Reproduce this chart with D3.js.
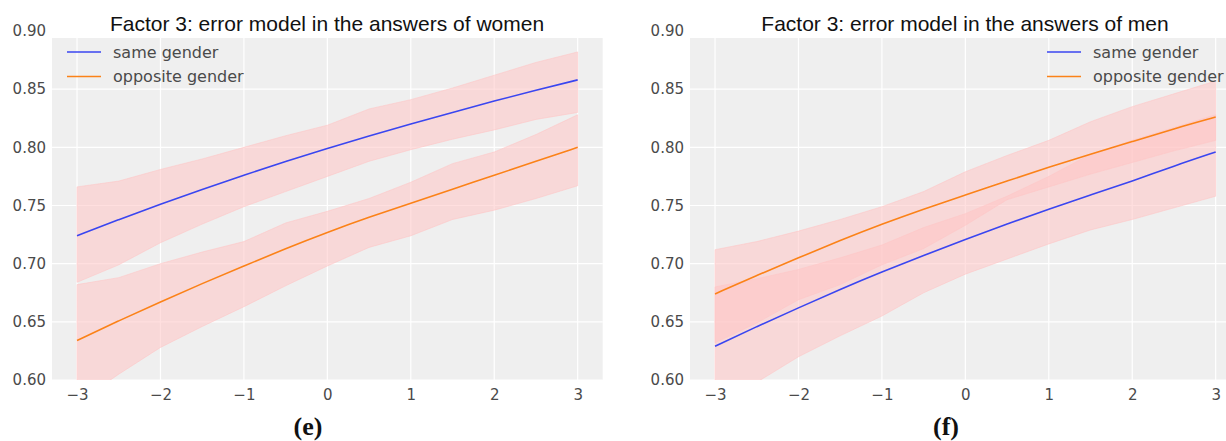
<!DOCTYPE html>
<html>
<head>
<meta charset="utf-8">
<script src="https://cdn.jsdelivr.net/npm/d3@7"></script>
<style>
    body { margin: 0; background: #fff; }
    svg { display: block; }
    .tick text { font-family: "DejaVu Sans", sans-serif; font-size: 15px; fill: #4a4a4a; }
</style>
</head>
<body>
<div id="viz"></div>
<script>
//Data (x = factor score, y = probability).
var xs = [-3, -2.5, -2, -1.5, -1, -0.5, 0, 0.5, 1, 1.5, 2, 2.5, 3];
var xTicks = [-3, -2, -1, 0, 1, 2, 3];
var yTicks = [0.60, 0.65, 0.70, 0.75, 0.80, 0.85, 0.90];
var seriesNames = ["same gender", "opposite gender"];
var panelTitles = ["Factor 3: error model in the answers of women",
                   "Factor 3: error model in the answers of men"];
var panelLabels = ["(e)", "(f)"];

//Women
var womenSameMean  = [0.724, 0.738, 0.751, 0.764, 0.776, 0.788, 0.799, 0.810, 0.820, 0.830, 0.840, 0.849, 0.858];
var womenSameUpper = [0.766, 0.771, 0.781, 0.790, 0.800, 0.810, 0.819, 0.833, 0.841, 0.851, 0.862, 0.873, 0.882];
var womenSameLower = [0.684, 0.699, 0.718, 0.734, 0.749, 0.762, 0.775, 0.788, 0.798, 0.807, 0.815, 0.824, 0.830];
var womenOppMean   = [0.634, 0.651, 0.667, 0.683, 0.698, 0.713, 0.727, 0.740, 0.752, 0.764, 0.776, 0.788, 0.800];
var womenOppUpper  = [0.682, 0.688, 0.700, 0.710, 0.719, 0.735, 0.745, 0.756, 0.770, 0.786, 0.796, 0.811, 0.828];
var womenOppLower  = [0.580, 0.605, 0.628, 0.646, 0.663, 0.681, 0.698, 0.714, 0.724, 0.738, 0.746, 0.756, 0.767];

//Men
var menSameMean  = [0.629, 0.646, 0.662, 0.678, 0.693, 0.707, 0.721, 0.734, 0.747, 0.759, 0.771, 0.784, 0.796];
var menSameUpper = [0.680, 0.687, 0.695, 0.705, 0.716, 0.731, 0.743, 0.758, 0.775, 0.794, 0.806, 0.817, 0.828];
var menSameLower = [0.585, 0.598, 0.620, 0.638, 0.655, 0.675, 0.691, 0.704, 0.717, 0.729, 0.738, 0.748, 0.758];
var menOppMean   = [0.674, 0.690, 0.705, 0.720, 0.734, 0.747, 0.759, 0.771, 0.783, 0.794, 0.805, 0.816, 0.826];
var menOppUpper  = [0.712, 0.719, 0.728, 0.738, 0.749, 0.762, 0.779, 0.793, 0.806, 0.822, 0.835, 0.846, 0.857];
var menOppLower  = [0.632, 0.649, 0.669, 0.682, 0.699, 0.713, 0.733, 0.755, 0.766, 0.777, 0.787, 0.797, 0.806];

//Layout
var width = 1226, height = 441;
var xLim = [-3.3, 3.3], yLim = [0.6, 0.894];
var lineColors = ["#3a46f0", "#fb8218"];
var bandColor = "#ffc4c4";

var panels = [
    { left: 52,  series: [[womenSameMean, womenSameLower, womenSameUpper], [womenOppMean, womenOppLower, womenOppUpper]], legendX: 15 },
    { left: 690, series: [[menSameMean, menSameLower, menSameUpper], [menOppMean, menOppLower, menOppUpper]], legendX: 357 }
];
var plotW = 550.7, plotTop = 38, plotBottom = 380;

var svg = d3.select("#viz").append("svg")
    .attr("width", width)
    .attr("height", height);

panels.forEach(function(p, pi) {
    var x = d3.scaleLinear().domain(xLim).range([p.left, p.left + plotW]);
    var y = d3.scaleLinear().domain(yLim).range([plotBottom, plotTop]);
    var g = svg.append("g");

    //Background
    g.append("rect")
        .attr("x", p.left).attr("y", plotTop)
        .attr("width", plotW).attr("height", plotBottom - plotTop)
        .attr("fill", "#efefef");

    //Grid
    g.selectAll(".gx").data(xTicks).enter().append("line")
        .attr("x1", function(d) { return x(d); }).attr("x2", function(d) { return x(d); })
        .attr("y1", plotTop).attr("y2", plotBottom)
        .attr("stroke", "#fff").attr("stroke-width", 1.2);
    g.selectAll(".gy").data(yTicks.filter(function(d) { return d <= yLim[1]; })).enter().append("line")
        .attr("x1", p.left).attr("x2", p.left + plotW)
        .attr("y1", function(d) { return y(d); }).attr("y2", function(d) { return y(d); })
        .attr("stroke", "#fff").attr("stroke-width", 1.2);

    //Clip for bands and lines
    svg.append("clipPath").attr("id", "clip" + pi).append("rect")
        .attr("x", p.left).attr("y", plotTop)
        .attr("width", plotW).attr("height", plotBottom - plotTop);
    var plot = g.append("g").attr("clip-path", "url(#clip" + pi + ")");

    var area = d3.area()
        .x(function(d, i) { return x(xs[i]); })
        .y0(function(d) { return y(d[0]); })
        .y1(function(d) { return y(d[1]); });
    var line = d3.line()
        .x(function(d, i) { return x(xs[i]); })
        .y(function(d) { return y(d); })
        .curve(d3.curveBasis);

    p.series.forEach(function(s) {
        plot.append("path")
            .datum(d3.zip(s[1], s[2]))
            .attr("d", area)
            .attr("fill", bandColor).attr("fill-opacity", 0.55)
            .attr("stroke", bandColor).attr("stroke-opacity", 0.55).attr("stroke-width", 1);
    });
    p.series.forEach(function(s, si) {
        plot.append("path")
            .datum(s[0])
            .attr("d", line)
            .attr("fill", "none")
            .attr("stroke", lineColors[si]).attr("stroke-width", 1.6);
    });

    //Axes
    var xAxis = g.append("g")
        .attr("transform", "translate(0," + plotBottom + ")")
        .call(d3.axisBottom(x).tickValues(xTicks).tickSize(0).tickPadding(9).tickFormat(d3.format("d")));
    var yAxis = g.append("g")
        .attr("transform", "translate(" + p.left + ",0)")
        .call(d3.axisLeft(y).tickValues(yTicks).tickSize(0).tickPadding(6).tickFormat(d3.format(".2f")));
    xAxis.select(".domain").remove();
    yAxis.select(".domain").remove();

    //Title
    g.append("text")
        .attr("x", p.left + 275).attr("y", 30.5)
        .attr("text-anchor", "middle")
        .style("font-family", "'Liberation Sans', Arial, sans-serif")
        .style("font-size", "21px")
        .attr("fill", "#111")
        .text(panelTitles[pi]);

    //Legend
    seriesNames.forEach(function(name, si) {
        var ly = 52 + si * 24.5;
        g.append("line")
            .attr("x1", p.left + p.legendX).attr("x2", p.left + p.legendX + 34)
            .attr("y1", ly).attr("y2", ly)
            .attr("stroke", lineColors[si]).attr("stroke-width", 1.6);
        g.append("text")
            .attr("x", p.left + p.legendX + 46).attr("y", ly)
            .attr("dy", "0.35em")
            .style("font-family", "'DejaVu Sans', sans-serif")
            .style("font-size", "16px")
            .attr("fill", "#4a4a4a")
            .text(name);
    });

    //Sub-figure label
    g.append("text")
        .attr("x", p.left + 256).attr("y", 435)
        .attr("text-anchor", "middle")
        .style("font-family", "'Liberation Serif', serif")
        .style("font-weight", "bold")
        .style("font-size", "26px")
        .attr("fill", "#111")
        .text(panelLabels[pi]);
});
</script>
</body>
</html>
